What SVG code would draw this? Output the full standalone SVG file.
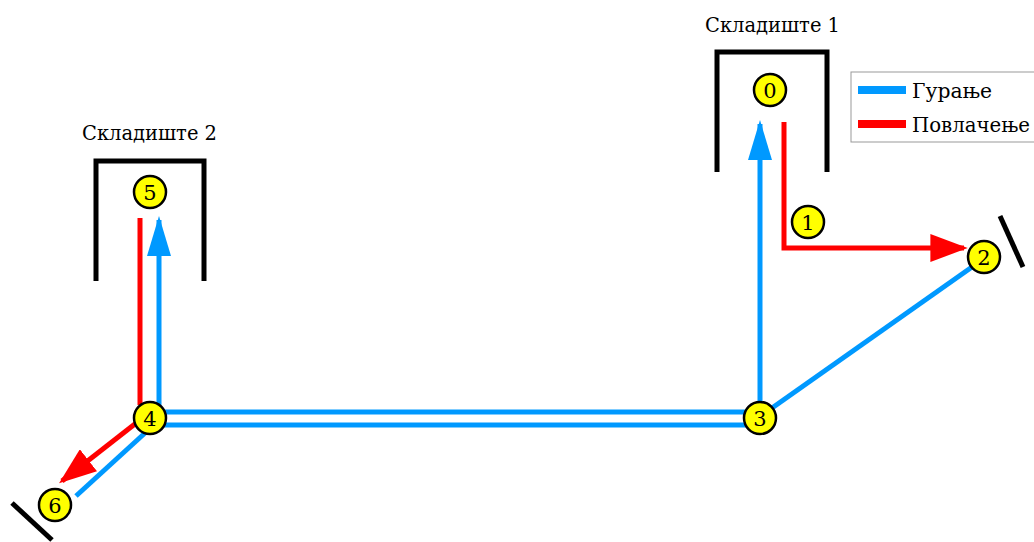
<svg xmlns="http://www.w3.org/2000/svg" width="1034" height="542" viewBox="0 0 1034 542">
<style>
.bx{fill:none;stroke:#000;stroke-width:5}
.bar{stroke:#000;stroke-width:5}
.b{fill:none;stroke:#0099ff;stroke-width:5}
.r{fill:none;stroke:#ff0000;stroke-width:5}
.nd circle{fill:#ffff00;stroke:#000;stroke-width:2.5}
.nd text{font-size:21px;text-anchor:middle;fill:#000}
.lbl{font-size:20px;fill:#000}
text{font-family:'DejaVu Serif','Liberation Serif',serif}
</style>
<defs>
<marker id="ab" viewBox="0 0 10 6" refX="9" refY="3" markerWidth="8" markerHeight="4.8" markerUnits="strokeWidth" orient="auto"><path d="M0,0 L10,3 L0,6 z" fill="#0099ff"/></marker>
<marker id="ar" viewBox="0 0 10 7.5" refX="9" refY="3.75" markerWidth="7.5" markerHeight="5.6" markerUnits="strokeWidth" orient="auto"><path d="M0,0 L10,3.75 L0,7.5 z" fill="#ff0000"/></marker>
</defs>
<g id="warehouse1">
<path class="bx" d="M717,172 V52 H827 V172"/>
<text class="lbl" x="705" y="32" textLength="135" lengthAdjust="spacingAndGlyphs">Складиште 1</text>
</g>
<g id="warehouse2">
<path class="bx" d="M96,281 V161 H204 V281"/>
<text class="lbl" x="82" y="140" textLength="135" lengthAdjust="spacingAndGlyphs">Складиште 2</text>
</g>
<g id="walls">
<line class="bar" x1="1000" y1="216" x2="1023" y2="267"/>
<line class="bar" x1="12" y1="503" x2="52" y2="540"/>
</g>
<g id="legend">
<rect x="851" y="72" width="190" height="70" fill="#fff" stroke="#999" stroke-width="1"/>
<line x1="858" y1="90" x2="906" y2="90" stroke="#0099ff" stroke-width="8"/>
<line x1="858" y1="124" x2="906" y2="124" stroke="#ff0000" stroke-width="8"/>
<text class="lbl" x="912" y="98" textLength="80" lengthAdjust="spacingAndGlyphs">Гурање</text>
<text class="lbl" x="912" y="132" textLength="118" lengthAdjust="spacingAndGlyphs">Повлачење</text>
</g>
<g id="connectors">
<line class="b" x1="160" y1="412" x2="750" y2="412"/>
<line class="b" x1="160" y1="425" x2="750" y2="425"/>
<line class="b" x1="760" y1="405" x2="760" y2="124" marker-end="url(#ab)"/>
<line class="b" x1="772" y1="408" x2="972" y2="267"/>
<path class="r" d="M784,122 V248 H964" marker-end="url(#ar)"/>
<line class="b" x1="159" y1="410" x2="159" y2="220" marker-end="url(#ab)"/>
<line class="r" x1="140" y1="218" x2="140" y2="405"/>
<line class="r" x1="140" y1="420" x2="62" y2="481" marker-end="url(#ar)"/>
<line class="b" x1="145" y1="433" x2="76" y2="496"/>
</g>
<g id="n0" class="nd"><circle cx="770" cy="90" r="16"/><text x="770" y="98">0</text></g>
<g id="n1" class="nd"><circle cx="808" cy="222" r="16"/><text x="808" y="230">1</text></g>
<g id="n2" class="nd"><circle cx="984" cy="257" r="16"/><text x="984" y="265">2</text></g>
<g id="n3" class="nd"><circle cx="760" cy="418" r="16"/><text x="760" y="426">3</text></g>
<g id="n4" class="nd"><circle cx="150" cy="418" r="16"/><text x="150" y="426">4</text></g>
<g id="n5" class="nd"><circle cx="150" cy="192" r="16"/><text x="150" y="200">5</text></g>
<g id="n6" class="nd"><circle cx="55" cy="505" r="16"/><text x="55" y="513">6</text></g>
</svg>
